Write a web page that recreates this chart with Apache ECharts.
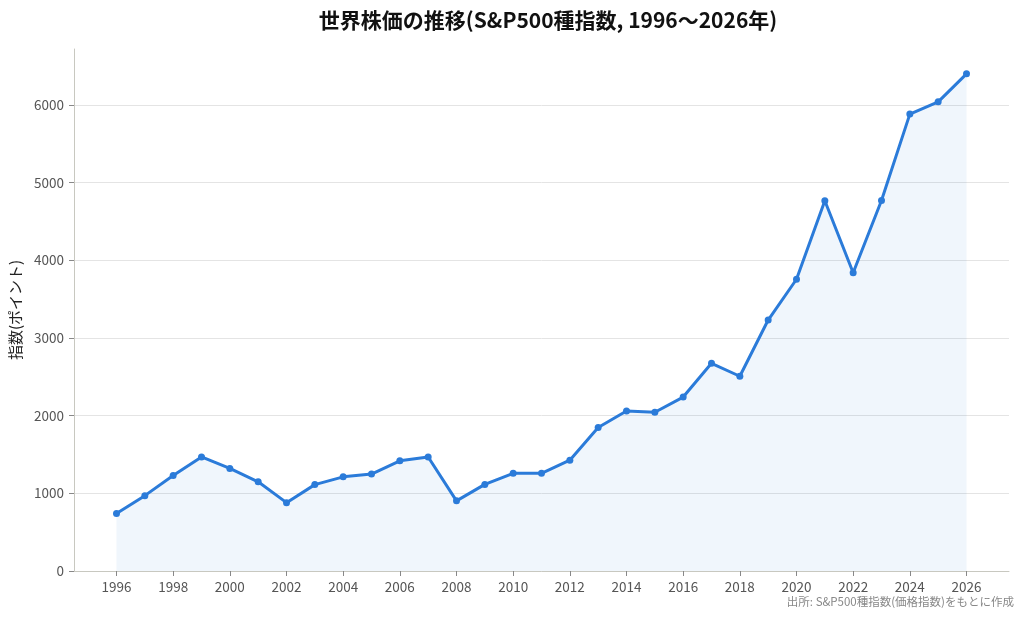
<!DOCTYPE html>
<html>
<head>
<meta charset="utf-8">
<script src="https://cdn.jsdelivr.net/npm/echarts@6/dist/echarts.min.js"></script>
<style>html,body{margin:0;padding:0;background:#fff}#c{width:1024px;height:619px}</style>
</head>
<body>
<div id="c"></div>
<script>
const years = [1996,1997,1998,1999,2000,2001,2002,2003,2004,2005,2006,2007,2008,2009,2010,2011,2012,2013,2014,2015,2016,2017,2018,2019,2020,2021,2022,2023,2024,2025,2026];
const values = [740,970,1229,1469,1320,1148,880,1112,1212,1248,1418,1468,903,1115,1258,1258,1426,1848,2059,2044,2239,2674,2507,3231,3756,4766,3840,4770,5882,6040,6400];
const xTickYears = [1996,1998,2000,2002,2004,2006,2008,2010,2012,2014,2016,2018,2020,2022,2024,2026];
const yTicks = [0,1000,2000,3000,4000,5000,6000];
const titleText = '世界株価の推移(S&P500種指数, 1996〜2026年)';
const yName = '指数(ポイント)';
const sourceText = '出所: S&P500種指数(価格指数)をもとに作成';

const font = '"Noto Sans CJK JP", "Noto Sans", sans-serif';
const chart = echarts.init(document.getElementById('c'));
const seriesData = years.map((y, i) => [y, values[i]]);

chart.setOption({
  backgroundColor: '#ffffff',
  animation: false,
  title: {
    text: titleText,
    left: 543, top: 5, textAlign: 'center',
    textStyle: { fontFamily: font, fontSize: 21, fontWeight: 'bold', color: '#111' }
  },
  graphic: [{
    type: 'text', right: 10, top: 596,
    style: { text: sourceText, fontFamily: font, fontSize: 11.5, fill: '#888' }
  }],
  grid: { left: 74, right: 15, top: 49, bottom: 48, containLabel: false },
  xAxis: {
    type: 'value', min: 1994.5, max: 2027.5,
    axisLine: { show: true, lineStyle: { color: '#c8c8c0', width: 1 } },
    axisTick: { show: true, length: 5, lineStyle: { color: '#888' }, customValues: xTickYears },
    axisLabel: { customValues: xTickYears, color: '#555', fontFamily: font, fontSize: 13.5, margin: 9, formatter: v => String(v) },
    splitLine: { show: false }
  },
  yAxis: {
    type: 'value', min: 0, max: 6720,
    name: yName, nameLocation: 'middle', nameGap: 49, nameRotate: 90,
    nameTextStyle: { fontFamily: font, fontSize: 15, color: '#222' },
    axisLine: { show: true, lineStyle: { color: '#c8c8c0', width: 1 } },
    axisTick: { show: true, length: 5, lineStyle: { color: '#888' }, customValues: yTicks },
    axisLabel: { customValues: yTicks, color: '#555', fontFamily: font, fontSize: 13.5, margin: 10, formatter: v => String(v) },
    splitLine: { show: true, lineStyle: { color: '#e4e4e4', width: 1 } }
  },
  series: [{
    type: 'line', data: seriesData,
    symbol: 'circle', symbolSize: 7,
    lineStyle: { color: '#2b7bd9', width: 3 },
    itemStyle: { color: '#2b7bd9' },
    areaStyle: { color: 'rgba(43,123,217,0.1)', origin: 'start' },
    z: 3
  }]
});
</script>
</body>
</html>
